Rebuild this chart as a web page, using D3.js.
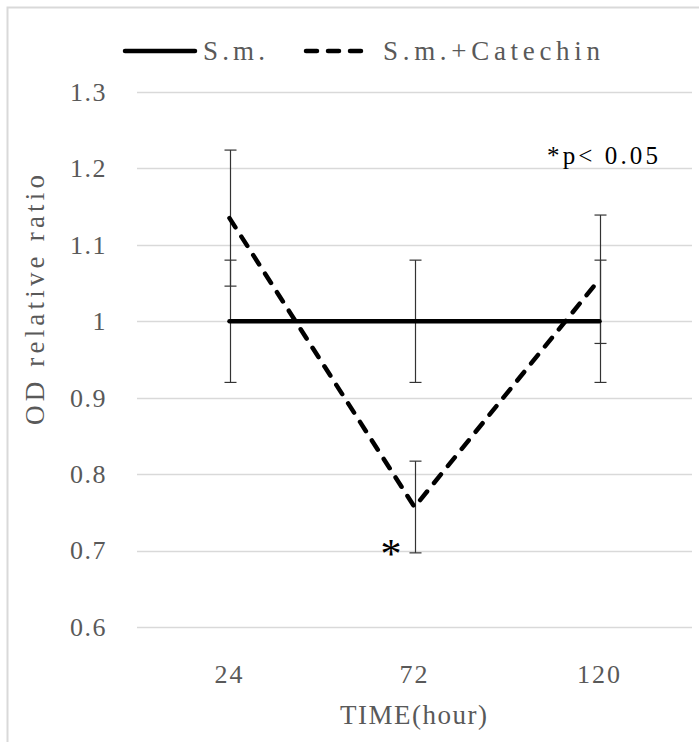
<!DOCTYPE html>
<html>
<head>
<meta charset="utf-8">
<script src="https://cdn.jsdelivr.net/npm/d3@7"></script>
<style>
  body { margin: 0; background: #fff; }
  svg { display: block; }
  text { font-family: "Liberation Serif", "Times New Roman", "DejaVu Serif", serif; }
</style>
</head>
<body>
<div class="chart"></div>
<script>
// values
const hours = ["24", "72", "120"];
const smMean = [1, 1, 1];
const smErr = [0.08, 0.08, 0.08];
const catMean = [1.135, 0.757, 1.055];
const catErr = [0.089, 0.06, 0.084];
const yTicks = [0.6, 0.7, 0.8, 0.9, 1, 1.1, 1.2, 1.3];
const seriesNames = ["S.m.", "S.m.+Catechin"];

var width = 699,
    height = 742,
    margin = {top: 92, right: 7, bottom: 115, left: 137};

var svg = d3.select("div.chart").append("svg")
    .attr("width", width)
    .attr("height", height);

// chart frame (cut off on the right and bottom)
svg.append("path")
    .attr("d", "M7.5," + height + "V7.5H" + width)
    .attr("fill", "none")
    .attr("stroke", "#d9d9d9")
    .attr("stroke-width", 2);

var x = d3.scaleBand()
    .domain(hours)
    .range([margin.left, width - margin.right]);

var y = d3.scaleLinear()
    .domain([0.6, 1.3])
    .range([height - margin.bottom, margin.top]);

var cx = function(h) { return x(h) + x.bandwidth() / 2; };

// gridlines
svg.append("g")
  .selectAll("line")
  .data(yTicks)
  .enter().append("line")
    .attr("x1", margin.left)
    .attr("x2", width - margin.right)
    .attr("y1", function(d) { return Math.round(y(d)) + 0.5; })
    .attr("y2", function(d) { return Math.round(y(d)) + 0.5; })
    .attr("stroke", "#d9d9d9")
    .attr("stroke-width", 1.5);

// y axis labels (no line, no ticks)
var yAxis = svg.append("g")
    .attr("transform", "translate(" + (margin.left - 30) + ",0)")
    .call(d3.axisLeft(y).tickValues(yTicks).tickSize(0).tickPadding(0)
      .tickFormat(function(d) { return d === 1 ? "1" : d3.format(".1f")(d); }));
yAxis.attr("font-family", null).attr("font-size", null);
yAxis.select(".domain").remove();
yAxis.selectAll("text")
    .attr("fill", "#595959")
    .style("font-size", "26px")
    .style("letter-spacing", "1.5px");

// x axis labels
var xAxis = svg.append("g")
    .attr("transform", "translate(0," + (height - margin.bottom + 56) + ")")
    .call(d3.axisBottom(x).tickSize(0).tickPadding(0));
xAxis.attr("font-family", null).attr("font-size", null);
xAxis.select(".domain").remove();
xAxis.selectAll("text")
    .attr("fill", "#595959")
    .attr("dy", "0")
    .style("font-size", "26px")
    .style("letter-spacing", "2px");

// axis titles
svg.append("text")
    .attr("x", 340)
    .attr("y", 724)
    .attr("fill", "#595959")
    .attr("textLength", 147)
    .style("font-size", "27px")
    .text("TIME(hour)");

svg.append("text")
    .attr("transform", "translate(44,425) rotate(-90)")
    .attr("fill", "#595959")
    .attr("textLength", 250)
    .style("font-size", "27px")
    .text("OD relative ratio");

// error bars
function errorBars(mean, err) {
  var g = svg.append("g")
      .attr("stroke", "#333")
      .attr("stroke-width", 1.2);
  hours.forEach(function(h, i) {
    var xc = Math.round(cx(h)) + 0.5,
        top = y(mean[i] + err[i]),
        bot = y(mean[i] - err[i]);
    g.append("line").attr("x1", xc).attr("x2", xc).attr("y1", top).attr("y2", bot);
    g.append("line").attr("x1", xc - 6).attr("x2", xc + 6).attr("y1", top).attr("y2", top);
    g.append("line").attr("x1", xc - 6).attr("x2", xc + 6).attr("y1", bot).attr("y2", bot);
  });
}
errorBars(smMean, smErr);
errorBars(catMean, catErr);

var line = d3.line()
    .x(function(d) { return cx(d.h); })
    .y(function(d) { return y(d.v); });

var smData = hours.map(function(h, i) { return {h: h, v: smMean[i]}; });
var catData = hours.map(function(h, i) { return {h: h, v: catMean[i]}; });

svg.append("path")
    .datum(smData)
    .attr("fill", "none")
    .attr("stroke", "#000")
    .attr("stroke-width", 4.5)
    .attr("stroke-linecap", "round")
    .attr("stroke-linejoin", "round")
    .attr("d", line);

svg.append("path")
    .datum(catData)
    .attr("fill", "none")
    .attr("stroke", "#000")
    .attr("stroke-width", 4.5)
    .attr("stroke-linecap", "round")
    .attr("stroke-linejoin", "round")
    .attr("stroke-dasharray", "11,11")
    .attr("d", line);

// significance marks
svg.append("text")
    .attr("x", cx("72") - 13)
    .attr("y", y(0.7) + 17)
    .attr("text-anchor", "end")
    .attr("fill", "#000")
    .style("font-size", "42px")
    .text("*");

svg.append("text")
    .attr("x", 547)
    .attr("y", 164)
    .attr("fill", "#000")
    .attr("textLength", 111)
    .style("font-size", "25px")
    .text("*p< 0.05");

// legend
var legend = svg.append("g");
var legendItems = [
  {name: seriesNames[0], x1: 125, x2: 195, tx: 203, tw: 62, dash: null},
  {name: seriesNames[1], x1: 306, x2: 366, tx: 383, tw: 217, dash: "11,11"}
];
legendItems.forEach(function(d) {
  legend.append("line")
      .attr("x1", d.x1).attr("x2", d.x2)
      .attr("y1", 51).attr("y2", 51)
      .attr("stroke", "#000")
      .attr("stroke-width", 4.5)
      .attr("stroke-linecap", "round")
      .attr("stroke-dasharray", d.dash);
  legend.append("text")
      .attr("x", d.tx)
      .attr("y", 60)
      .attr("fill", "#595959")
      .attr("textLength", d.tw)
      .style("font-size", "27px")
      .text(d.name);
});
</script>
</body>
</html>
